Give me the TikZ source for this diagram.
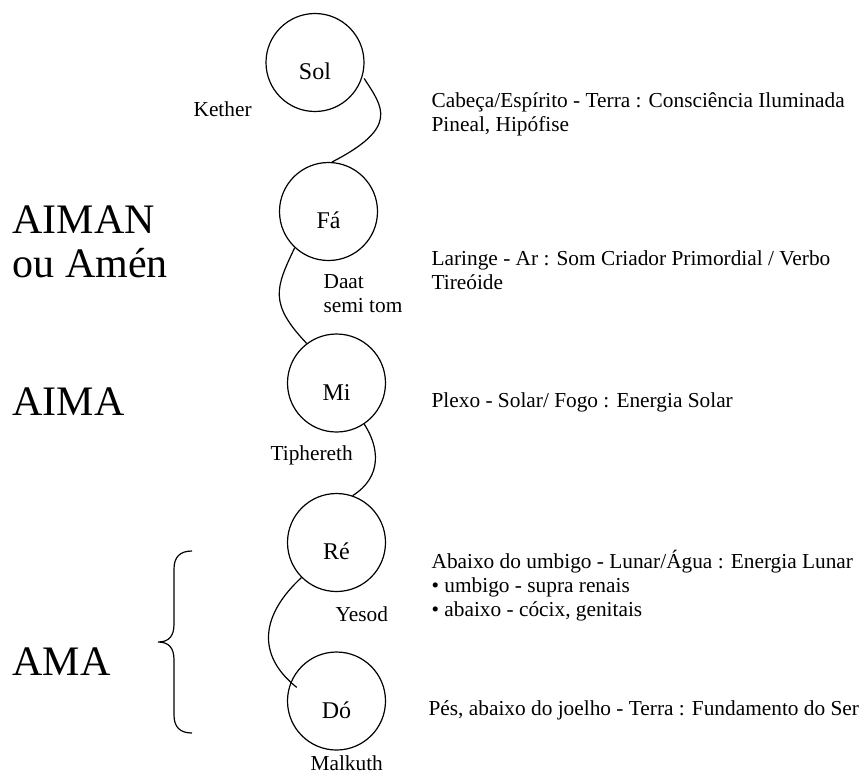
\documentclass[tikz,border=0pt]{standalone}
\usepackage{fontspec}
\setmainfont{Liberation Serif}
\usetikzlibrary{calc}

\begin{document}
\begin{tikzpicture}[x=0.75pt,y=-0.75pt,
  line width=0.9pt,
  note/.style={inner sep=0pt,anchor=base west,align=left,
    font=\fontsize{16pt}{18pt}\selectfont},
  pillar/.style={inner sep=0pt,anchor=base west,align=left,
    font=\fontsize{31.5pt}{33pt}\selectfont},
  tone/.style={circle,draw,minimum size=73.5pt,inner sep=0pt,
    text height=25.5pt,text depth=0pt,
    font=\fontsize{18pt}{20pt}\selectfont}]
\useasboundingbox (0,0) rectangle (863,776);

% the five notes of the scale
\node[tone] (sol) at (315,62.5) {Sol};
\node[tone] (fa)  at (328.5,211.5) {Fá};
\node[tone] (mi)  at (336.5,383) {Mi};
\node[tone] (re)  at (336.5,542.5) {Ré};
\node[tone] (do)  at (336.5,701) {Dó};

% winding path between the notes
\draw[shorten <=2pt] (sol.-16) .. controls ($(sol.-16)+(20,31)$) and ($(fa.86)+(68,-35)$) .. (fa.86);
\draw (fa.-133) .. controls ($(fa.-133)+(-19,40)$) and ($(mi.127)+(-38,-40)$) .. (mi.127);
\draw (mi.-56) .. controls ($(mi.-56)+(15,23)$) and ($(re.71)+(30,-19)$) .. (re.71);
\draw[shorten >=-6pt] (re.-135) .. controls ($(re.-135)+(-40,37)$) and ($(do.158)+(-35,-28)$) .. (do.158);

% sephiroth (multi-line nodes are placed by the baseline of their last line)
\node[note] (kether) at (193,116) {Kether};
\node[note] (daat) at (323,312) {Daat\\semi tom};
\node[note] (tiphereth) at (270,460) {Tiphereth};
\node[note] (yesod) at (335,621) {Yesod};
\node[note] (malkuth) at (310,770) {Malkuth};

% correspondences
\node[note] (head) at (431,131) {Cabeça/Espírito - Terra : Consciência Iluminada\\Pineal, Hipófise};
\node[note] (throat) at (431,289) {Laringe - Ar : Som Criador Primordial / Verbo\\Tireóide};
\node[note] (plexus) at (431,407) {Plexo - Solar/ Fogo : Energia Solar};
\node[note] (navel) at (431,616) {Abaixo do umbigo - Lunar/Água : Energia Lunar\\• umbigo - supra renais\\• abaixo - cócix, genitais};
\node[note] (feet) at (428,715) {Pés, abaixo do joelho - Terra : Fundamento do Ser};

% names on the left
\node[pillar] (aiman) at (12,277) {AIMAN\\ou Amén};
\node[pillar] (aima) at (12,415) {AIMA};
\node[pillar] (ama) at (12,675) {AMA};

% brace grouping Ré and Dó
\draw (192,551) .. controls (180,551) and (174,557) .. (174,569)
  -- (174,624) .. controls (174,636) and (169,642) .. (158,642)
  .. controls (169,642) and (174,648) .. (174,660)
  -- (174,715) .. controls (174,727) and (180,733) .. (192,733);
\end{tikzpicture}
\end{document}
